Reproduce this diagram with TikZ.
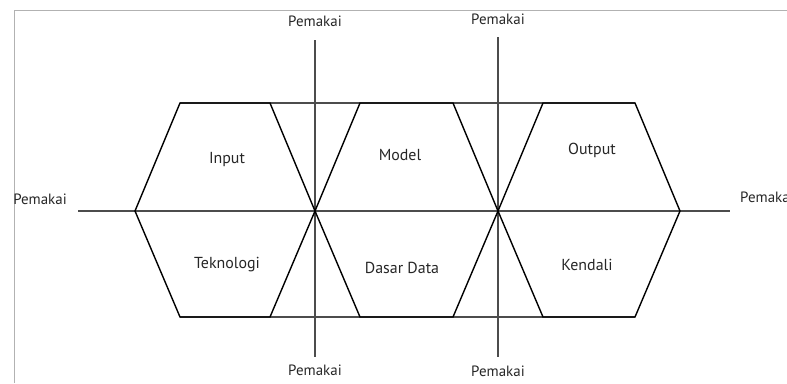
\documentclass[tikz,border=0pt]{standalone}
\usepackage{fontspec}
\setmainfont{PT Sans}
\usetikzlibrary{positioning}

\begin{document}
\begin{tikzpicture}[x=1bp,y=-1bp,font=\fontsize{15}{17}\selectfont,
      part style/.style={draw=black,line width=1.4bp,line join=miter},
      axis style/.style={draw=black!70,line width=1.4bp},
      user style/.style={text=black!85,inner sep=0pt},
      name style/.style={text=black!85,inner sep=0pt,font=\fontsize{16}{18}\selectfont}
      ]
      \useasboundingbox (0,0) rectangle (787,383);
      \draw[black!30,line width=1bp] (14,383) -- (14,10) -- (787,10);

      % corners of the three hexagons
      \coordinate (l) at (135,211);
      \coordinate (a1) at (180,103);
      \coordinate (a2) at (270,103);
      \coordinate (x1) at (315,211);
      \coordinate (a3) at (270,317);
      \coordinate (a4) at (180,317);
      \coordinate (b1) at (360,103);
      \coordinate (b2) at (453,103);
      \coordinate (x2) at (498,211);
      \coordinate (b3) at (453,317);
      \coordinate (b4) at (360,317);
      \coordinate (c1) at (543,103);
      \coordinate (c2) at (635,103);
      \coordinate (r) at (680,211);
      \coordinate (c3) at (635,317);
      \coordinate (c4) at (543,317);

      % ends of the axes
      \coordinate (hl) at (78,211);
      \coordinate (hr) at (730,211);
      \coordinate (v1t) at (315,40);
      \coordinate (v1b) at (315,357);
      \coordinate (v2t) at (498,37);
      \coordinate (v2b) at (498,357);

      \node[user style, above=13bp of v1t] (top1) {Pemakai};
      \node[user style, above=12bp of v2t] (top2) {Pemakai};
      \node[user style, below=8bp of v1b] (bot1) {Pemakai};
      \node[user style, below=9bp of v2b] (bot2) {Pemakai};
      \node[user style, above left=6bp and 11bp of hl] (left) {Pemakai};
      \node[user style, above right=8bp and 10bp of hr] (right) {Pemakai};

      \draw[axis style] (hl) -- (hr);
      \draw[axis style] (v1t) -- (v1b);
      \draw[axis style] (v2t) -- (v2b);
      \draw[axis style] (a1) -- (c2);
      \draw[axis style] (a4) -- (c3);

      \draw[part style] (l) -- (a1) -- (a2) -- (x1) -- (a3) -- (a4) -- cycle;
      \draw[part style] (x1) -- (b1) -- (b2) -- (x2) -- (b3) -- (b4) -- cycle;
      \draw[part style] (x2) -- (c1) -- (c2) -- (r) -- (c3) -- (c4) -- cycle;

      \node[name style] (input) at (227,160) {Input};
      \node[name style] (model) at (400,155) {Model};
      \node[name style] (output) at (592,150) {Output};
      \node[name style] (tekno) at (227,265) {Teknologi};
      \node[name style] (data) at (402,268) {Dasar Data};
      \node[name style] (kendali) at (587,265) {Kendali};

    \end{tikzpicture}
\end{document}
